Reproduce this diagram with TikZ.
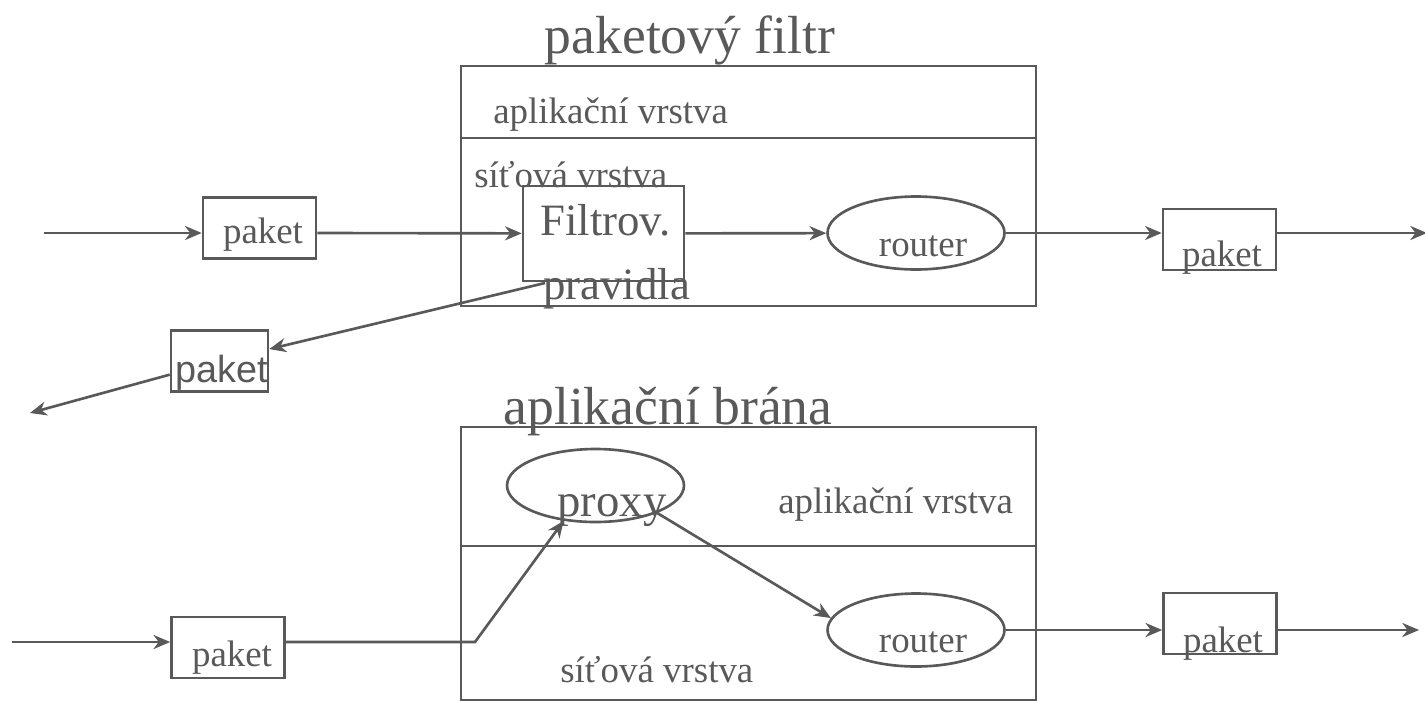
\documentclass[tikz,border=0pt]{standalone}
\usepackage{fontspec}
\setmainfont{Liberation Serif}
\newfontfamily\arialfont{Liberation Sans}
\usetikzlibrary{shapes.geometric, arrows.meta, positioning}
\definecolor{linegray}{HTML}{595959}

\begin{document}
\begin{tikzpicture}[x=0.02cm, y=-0.02cm, line width=1.5pt, color=linegray,
    >={Stealth[length=9.5pt, width=8pt, inset=3pt]},
    every node/.style={inner sep=0pt},
    txt/.style={font=\fontsize{21}{25}\selectfont, anchor=base west},
    ttl/.style={font=\fontsize{30.5}{36}\selectfont, anchor=base},
    layer/.style={draw, minimum width=11.5cm},
    pkt/.style={draw, minimum width=2.26cm, minimum height=1.22cm},
    oval/.style={draw, ellipse, minimum width=3.54cm, minimum height=1.46cm}]
      \useasboundingbox[fill=white] (0,0) rectangle (1425,700);

      \node[ttl]                        (t_pf)    at (690,53)      {paketový filtr};
      \node[layer, minimum height=4.8cm] (pf)     at (748.5,186)   {};
      \node[txt]                        (t_app1)  at (492,123)     {aplikační vrstva};
      \node[txt]                        (t_net1)  at (473,187)     {síťová vrstva};
      \node[draw, minimum width=3.22cm, minimum height=1.9cm] (filt) at (603.5,233.5) {};
      \node[txt, font=\fontsize{25.5}{30}\selectfont] (t_filt_a) at (539,235) {Filtrov.};
      \node[txt, font=\fontsize{25.5}{30}\selectfont] (t_filt_b) at (542,299) {pravidla};
      \node[oval]                       (r1)      at (916,233)     {};
      \node[txt, anchor=base]           (t_r1)    at (923,256)     {router};
      \node[pkt]                        (pk1)     at (259.5,228)   {};
      \node[txt, anchor=base]           (t_pk1)   at (263,243)     {paket};
      \node[pkt]                        (pk2)     at (1219.5,239.5) {};
      \node[txt, anchor=base]           (t_pk2)   at (1222,266)    {paket};
      \node[draw, minimum width=1.94cm, minimum height=1.22cm] (pk3) at (219.5,361) {};
      \node[txt, anchor=base, font=\arialfont\fontsize{21.5}{25}\selectfont] (t_pk3) at (221.5,382) {paket};
      \coordinate (in1)   at (44,233);
      \coordinate (out1)  at (1427,233);
      \coordinate (back1) at (545,283);
      \coordinate (lost)  at (30,413);
      \draw (pf.west |- 0,138) -- (pf.east |- 0,138);

      \node[ttl]                        (t_ab)    at (668,424)     {aplikační brána};
      \node[layer, minimum height=5.46cm] (ab)    at (748.5,563.5) {};
      \node[oval]                       (proxy)   at (595.5,485.5) {};
      \node[txt, anchor=base, font=\fontsize{26.6}{32}\selectfont] (t_proxy) at (612,516) {proxy};
      \node[txt]                        (t_app2)  at (777,513)     {aplikační vrstva};
      \node[txt]                        (t_net2)  at (559,682)     {síťová vrstva};
      \node[oval]                       (r2)      at (916,630)     {};
      \node[txt, anchor=base]           (t_r2)    at (923,652)     {router};
      \node[pkt]                        (pk4)     at (228,647.5)   {};
      \node[txt, anchor=base]           (t_pk4)   at (232,666)     {paket};
      \node[pkt]                        (pk5)     at (1220,623.5)  {};
      \node[txt, anchor=base]           (t_pk5)   at (1223,652)    {paket};
      \coordinate (in2)  at (12,642);
      \coordinate (bend) at (475,642);
      \coordinate (out2) at (1419,630);
      \draw (ab.west |- 0,546) -- (ab.east |- 0,546);

      \draw[->] (in1) -- (in1 -| pk1.west);
      \draw[->] (pk1.east |- in1) -- (filt);
      \draw[->] (filt) -- (r1);
      \draw[->] (r1) -- (r1 -| pk2.west);
      \draw[->] (pk2.east |- r1) -- (out1);
      \draw[->] (back1) -- (pk3);
      \draw[->] (pk3) -- (lost);

      \draw[->] (in2) -- (in2 -| pk4.west);
      \draw[->] (pk4.east |- in2) -- (bend) -- (proxy.228);
      \draw[->] (proxy.336) -- (r2.172);
      \draw[->] (r2) -- (r2 -| pk5.west);
      \draw[->] (pk5.east |- r2) -- (out2);
\end{tikzpicture}
\end{document}
